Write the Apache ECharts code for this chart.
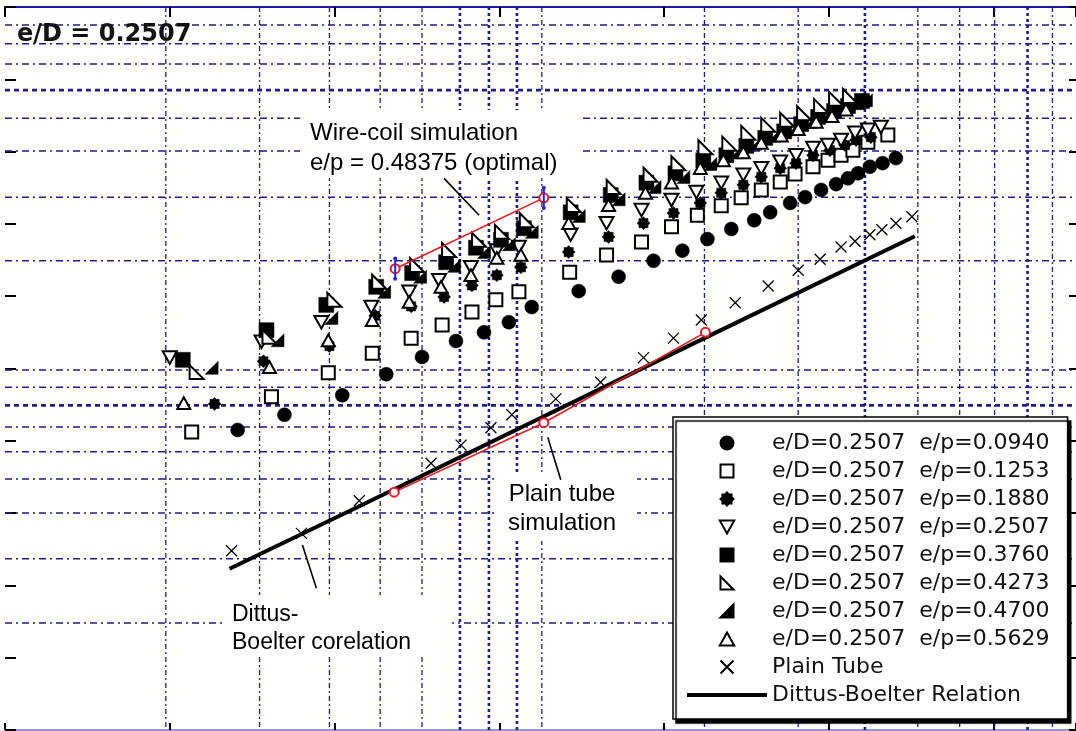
<!DOCTYPE html>
<html><head><meta charset="utf-8">
<script src="https://cdn.jsdelivr.net/npm/echarts@6/dist/echarts.min.js"></script>
<style>html,body{margin:0;padding:0;background:#fffffb}#c{width:1076px;height:731px}</style>
</head><body><div id="c"></div>
<script>
// ---- data (abstract log-scaled axis units; the source shows no tick labels) ----
const seriesNames = [
  'e/D=0.2507  e/p=0.0940', 'e/D=0.2507  e/p=0.1253', 'e/D=0.2507  e/p=0.1880',
  'e/D=0.2507  e/p=0.2507', 'e/D=0.2507  e/p=0.3760', 'e/D=0.2507  e/p=0.4273',
  'e/D=0.2507  e/p=0.4700', 'e/D=0.2507  e/p=0.5629', 'Plain Tube', 'Dittus-Boelter Relation'
];
const s0940 = [[4.12,41.5],[6.96,43.6],[10.47,46.3],[13.14,49.2],[15.31,51.6],[17.37,53.8],[19.07,55.0],[20.58,56.4],[21.97,58.5],[24.82,60.7],[27.24,62.7],[29.36,64.9],[31.11,66.3],[32.63,67.9],[34.08,69.3],[35.47,70.5],[36.44,71.6],[37.65,72.9],[38.56,73.7],[39.53,74.7],[40.44,75.5],[41.16,76.3],[41.77,77.0],[42.49,77.9],[43.26,78.4],[44.07,79.1]];
const s1253 = [[1.33,41.2],[6.17,46.1],[9.62,49.4],[12.29,52.1],[14.65,54.2],[16.53,56.0],[18.34,57.8],[19.79,59.5],[21.19,60.6],[24.27,63.3],[26.51,65.7],[28.63,67.5],[30.45,69.6],[32.02,71.2],[33.47,72.5],[34.68,73.6],[35.90,74.7],[37.05,75.8],[37.95,76.9],[39.04,77.9],[39.95,78.8],[40.74,79.5],[41.46,80.2],[42.37,81.3],[43.58,82.3]];
const s1880 = [[2.72,45.1],[5.69,51.0],[9.69,53.1],[12.47,57.3],[14.65,58.6],[16.65,59.9],[18.34,61.5],[19.85,62.9],[21.31,64.0],[24.21,66.1],[26.63,68.2],[28.75,70.1],[30.57,71.5],[32.20,72.9],[33.47,74.3],[34.81,75.4],[35.90,76.5],[37.05,77.7],[38.01,78.4],[39.04,79.5],[40.07,80.2],[40.98,80.9],[41.65,81.6],[42.55,82.0]];
const s2507 = [[0.00,51.5],[5.57,53.7],[9.20,56.4],[12.23,58.5],[14.53,60.6],[16.34,62.2],[18.28,64.0],[19.85,66.3],[21.19,66.8],[24.33,68.5],[26.51,70.1],[28.63,71.9],[30.45,73.3],[31.96,74.4],[33.47,75.7],[34.81,76.8],[35.90,77.7],[37.05,78.6],[38.01,79.5],[39.04,80.5],[39.95,80.9],[40.74,81.6],[41.59,82.6],[42.37,83.0],[43.16,83.4]];
const s3760 = [[0.79,51.2],[5.87,55.3],[9.50,58.8],[12.53,61.3],[14.71,63.2],[16.77,64.7],[18.58,66.7],[20.10,67.8],[21.49,69.4],[24.33,71.6],[26.76,74.0],[28.93,75.7],[30.69,77.0],[32.38,78.8],[33.78,79.5],[34.99,80.8],[36.14,81.9],[37.29,82.8],[38.32,83.8],[39.35,84.8],[40.31,85.6],[41.16,86.3],[42.01,87.0]];
const s4273 = [[1.63,49.5],[6.05,54.4],[9.99,59.5],[12.71,62.0],[15.01,64.3],[16.95,66.4],[18.77,67.8],[20.16,68.9],[21.67,70.5],[24.52,72.6],[26.94,75.1],[29.18,76.8],[30.87,78.4],[32.51,80.6],[33.96,81.1],[35.11,82.6],[36.32,83.7],[37.47,84.4],[38.50,85.3],[39.53,86.3],[40.44,87.3],[41.28,87.7]];
const s4700 = [[2.54,50.1],[6.54,53.9],[9.81,57.0],[13.01,60.6],[15.19,62.7],[17.25,64.2],[19.07,66.1],[20.58,67.2],[21.97,68.9],[24.82,71.1],[27.24,73.4],[29.42,75.1],[31.17,76.5],[32.81,78.3],[34.38,79.9],[35.53,81.1],[36.68,82.2],[37.83,83.1],[38.86,84.1],[39.89,85.1],[40.86,85.9],[41.77,86.7],[42.25,87.1]];
const s5629 = [[0.85,45.2],[6.05,50.2],[9.62,53.9],[12.29,56.7],[14.53,59.2],[16.46,61.3],[18.28,62.9],[19.85,65.3],[21.31,65.7],[24.21,70.1],[26.63,72.6],[28.87,74.3],[30.45,75.7],[32.20,77.7],[33.60,78.8],[34.81,79.9],[35.90,81.2],[37.11,82.2],[38.14,83.1],[39.23,84.1],[40.19,84.9],[41.04,85.8]];
const plainTube = [[3.75,24.8],[7.99,27.2],[11.50,31.7],[15.86,36.9],[17.68,39.4],[19.49,41.8],[20.76,43.6],[23.43,45.8],[26.15,48.1],[28.75,51.5],[30.57,54.2],[32.26,56.7],[34.32,59.1],[36.32,61.4],[38.14,63.6],[39.47,65.1],[40.74,66.8],[41.59,67.6],[42.49,68.5],[43.22,69.2],[44.07,70.1],[45.04,71.0]];
const dittusBoelter = [[3.63,22.3],[11.38,30.8],[33.17,55.0],[45.22,68.3]];
const plainSim = [[13.62,32.9],[22.70,42.5],[32.51,55.0]];
const wireSim = [[13.68,63.8],[22.70,73.6]];
const wireErr = [1.4, 1.4];
const wireLeader = [[16.65,76.3],[18.77,71.2]];
const plainLeader = [[22.94,40.5],[23.73,34.6]];
const dittusLeader = [[8.05,25.6],[8.90,19.6]];
// grid line positions (irregular in the source)
const vGrid = [-0.24,5.45,9.69,12.77,15.31,22.58,32.45,38.14,45.40,47.94,50.06,53.57];
const vGridBold = [17.61,19.37,21.07,42.19,52.06];
const hGrid = [97.5,94.9,92.1,84.6,80.1,73.7,64.9,49.8,47.4,41.9,38.5,34.7,30.0,23.7,14.8];
const hGridBold = [88.5,44.9];

// ---- styling ----
const GRID = '#1d1d8c', RED = '#ee1620', BLUE = '#2323e6';
const P_BLOB = 'path://M10,5L8.51,6.45L8.54,8.54L6.45,8.51L5,10L3.55,8.51L1.46,8.54L1.49,6.45L0,5L1.49,3.55L1.46,1.46L3.55,1.49L5,0L6.45,1.49L8.54,1.46L8.51,3.55Z';
const P_SQ = 'path://M0,0L10,0L10,10L0,10Z';
const P_DOWN = 'path://M0,0L10,0L5,9Z';
const P_RTRI_L = 'path://M0,0L0,10L10,10Z';
const P_RTRI_R = 'path://M10,0L10,10L0,10Z';
const P_UP = 'path://M5,0L10,9L0,9Z';
const P_X = 'path://M0,0L10,10M10,0L0,10';
const P_BAR = 'path://M0,0L40,0L40,2L0,2Z';

function gridSeries(values, orient, width, dash) {
  return {
    type: 'custom', silent: true, z: 1, clip: false,
    data: values.map(v => orient === 'v' ? [v, 50] : [0, v]),
    encode: { x: 0, y: 1 },
    renderItem: (params, api) => {
      const cs = params.coordSys;
      const p = api.coord([api.value(0), api.value(1)]);
      const shape = orient === 'v'
        ? { x1: p[0], y1: cs.y, x2: p[0], y2: cs.y + cs.height }
        : { x1: cs.x, y1: p[1], x2: cs.x + cs.width, y2: p[1] };
      return { type: 'line', shape, style: { stroke: GRID, lineWidth: width, lineDash: dash, fill: null } };
    }
  };
}
function scatter(name, data, symbol, size, filled, extra) {
  return Object.assign({
    name, type: 'scatter', data, symbol, symbolSize: size, symbolKeepAspect: true, z: 5,
    itemStyle: filled ? { color: '#000', borderColor: '#000', borderWidth: 0.5, opacity: 1 }
                      : { color: '#fff', borderColor: '#000', borderWidth: 2, opacity: 1 }
  }, extra || {});
}
function leader(data) {
  return { type: 'line', data, symbol: 'none', silent: true, z: 6,
           lineStyle: { color: '#000', width: 1.6 } };
}

const chart = echarts.init(document.getElementById('c'), null, { renderer: 'canvas' });
chart.setOption({
  backgroundColor: '#fffffb',
  animation: false,
  grid: { left: 5, top: 7, width: 1074, height: 723 },
  xAxis: [
    { type: 'value', min: -10, max: 55, interval: 10, position: 'bottom',
      axisLine: { onZero: false, lineStyle: { color: '#7272cc', width: 1.5 } },
      axisTick: { inside: true, length: 7, lineStyle: { color: '#000', width: 2 } },
      axisLabel: { show: false }, splitLine: { show: false } },
    { type: 'value', min: -10, max: 55, interval: 10, position: 'top',
      axisLine: { onZero: false, lineStyle: { color: '#1a1aa0', width: 2 } },
      axisTick: { inside: true, length: 10, lineStyle: { color: '#000', width: 2 } },
      axisLabel: { show: false }, splitLine: { show: false } }
  ],
  yAxis: [
    { type: 'value', min: 0, max: 100, interval: 10, position: 'left',
      axisLine: { show: false, onZero: false },
      axisTick: { show: true, inside: true, length: 11, lineStyle: { color: '#000', width: 2 } },
      axisLabel: { show: false }, splitLine: { show: false } },
    { type: 'value', min: 0, max: 100, interval: 10, position: 'right',
      axisLine: { show: false, onZero: false },
      axisTick: { show: true, inside: true, length: 7, lineStyle: { color: '#000', width: 2 } },
      axisLabel: { show: false }, splitLine: { show: false } }
  ],
  legend: {
    data: seriesNames.map((n, i) => i === 9
      ? { name: n, icon: P_BAR, itemStyle: { color: '#000', borderWidth: 0 } }
      : { name: n }),
    orient: 'vertical', left: 673, top: 417, itemWidth: 80, itemHeight: 13, itemGap: 6,
    padding: [15, 18, 13, 14], selectedMode: false, z: 10,
    backgroundColor: '#fff', borderColor: '#000', borderWidth: 1.5,
    shadowColor: '#000', shadowOffsetX: 3, shadowOffsetY: 4, shadowBlur: 1,
    textStyle: { fontFamily: 'DejaVu Sans', fontSize: 22, color: '#111', lineHeight: 22 }
  },
  graphic: [
    { type: 'text', x: 17, y: 35, z: 3, silent: true,
      style: { text: 'e/D = 0.2507', fontFamily: 'DejaVu Sans', fontWeight: 'bold', fontSize: 24,
               fill: '#111', verticalAlign: 'middle', textVerticalAlign: 'middle' } },
    { type: 'rect', z: 3, silent: true, shape: { x: 300, y: 110, width: 282, height: 68 }, style: { fill: '#fffffb' } },
    { type: 'text', x: 310, y: 118, z: 3, silent: true,
      style: { text: 'Wire-coil simulation\ne/p = 0.48375 (optimal)', fontFamily: 'Liberation Sans',
               fontSize: 24, lineHeight: 30, fill: '#000', verticalAlign: 'top', textVerticalAlign: 'top' } },
    { type: 'rect', z: 3, silent: true, shape: { x: 497, y: 472, width: 140, height: 69 }, style: { fill: '#fffffb' } },
    { type: 'text', x: 562, y: 480, z: 3, silent: true,
      style: { text: 'Plain tube\nsimulation', fontFamily: 'Liberation Sans', fontSize: 24, lineHeight: 29,
               fill: '#000', align: 'center', textAlign: 'center', verticalAlign: 'top', textVerticalAlign: 'top' } },
    { type: 'rect', z: 3, silent: true, shape: { x: 225, y: 595, width: 227, height: 62 }, style: { fill: '#fffffb' } },
    { type: 'text', x: 232, y: 601, z: 3, silent: true,
      style: { text: 'Dittus-\nBoelter corelation', fontFamily: 'Liberation Sans', fontSize: 23, lineHeight: 28,
               fill: '#000', verticalAlign: 'top', textVerticalAlign: 'top' } }
  ],
  series: [
    gridSeries(vGrid, 'v', 1.3, [5, 3, 2, 3]),
    gridSeries(vGridBold, 'v', 2.6, [3, 3]),
    gridSeries(hGrid, 'h', 1.5, [7, 4, 2, 4]),
    gridSeries(hGridBold, 'h', 2.6, [5, 4]),
    scatter(seriesNames[0], s0940, 'circle', 14, true),
    scatter(seriesNames[1], s1253, P_SQ, 13, false),
    scatter(seriesNames[2], s1880, P_BLOB, 13, true),
    scatter(seriesNames[3], s2507, P_DOWN, 14, false),
    scatter(seriesNames[4], s3760, P_SQ, 15, true),
    scatter(seriesNames[5], s4273, P_RTRI_L, 14, false),
    scatter(seriesNames[6], s4700, P_RTRI_R, 13, true),
    scatter(seriesNames[7], s5629, P_UP, 13, false),
    scatter(seriesNames[8], plainTube, P_X, 11, false,
      { itemStyle: { color: 'rgba(0,0,0,0)', borderColor: '#000', borderWidth: 1.3, opacity: 1 } }),
    { name: seriesNames[9], type: 'line', data: dittusBoelter, symbol: 'none', z: 4,
      itemStyle: { color: '#000' }, lineStyle: { color: '#000', width: 4 } },
    leader(wireLeader), leader(plainLeader), leader(dittusLeader),
    { type: 'line', data: plainSim, symbol: 'emptyCircle', symbolSize: 9, z: 7,
      lineStyle: { color: RED, width: 1.6 }, itemStyle: { color: RED, borderColor: RED, borderWidth: 1.6 } },
    { type: 'line', data: wireSim, symbol: 'emptyCircle', symbolSize: 9, z: 7,
      lineStyle: { color: RED, width: 1.6 }, itemStyle: { color: RED, borderColor: RED, borderWidth: 1.6 } },
    { type: 'custom', z: 8, silent: true, encode: { x: 0, y: 1 },
      data: wireSim.map((p, i) => [p[0], p[1], wireErr[i]]),
      renderItem: (params, api) => {
        const x = api.value(0), y = api.value(1), e = api.value(2);
        const t = api.coord([x, y + e]), b = api.coord([x, y - e]);
        return { type: 'group', children: [
          { type: 'line', shape: { x1: t[0], y1: t[1], x2: b[0], y2: b[1] }, style: { stroke: BLUE, lineWidth: 2 } },
          { type: 'circle', shape: { cx: t[0], cy: t[1], r: 2 }, style: { fill: BLUE } },
          { type: 'circle', shape: { cx: b[0], cy: b[1], r: 2 }, style: { fill: BLUE } }
        ] };
      } }
  ]
});
</script>
</body></html>
